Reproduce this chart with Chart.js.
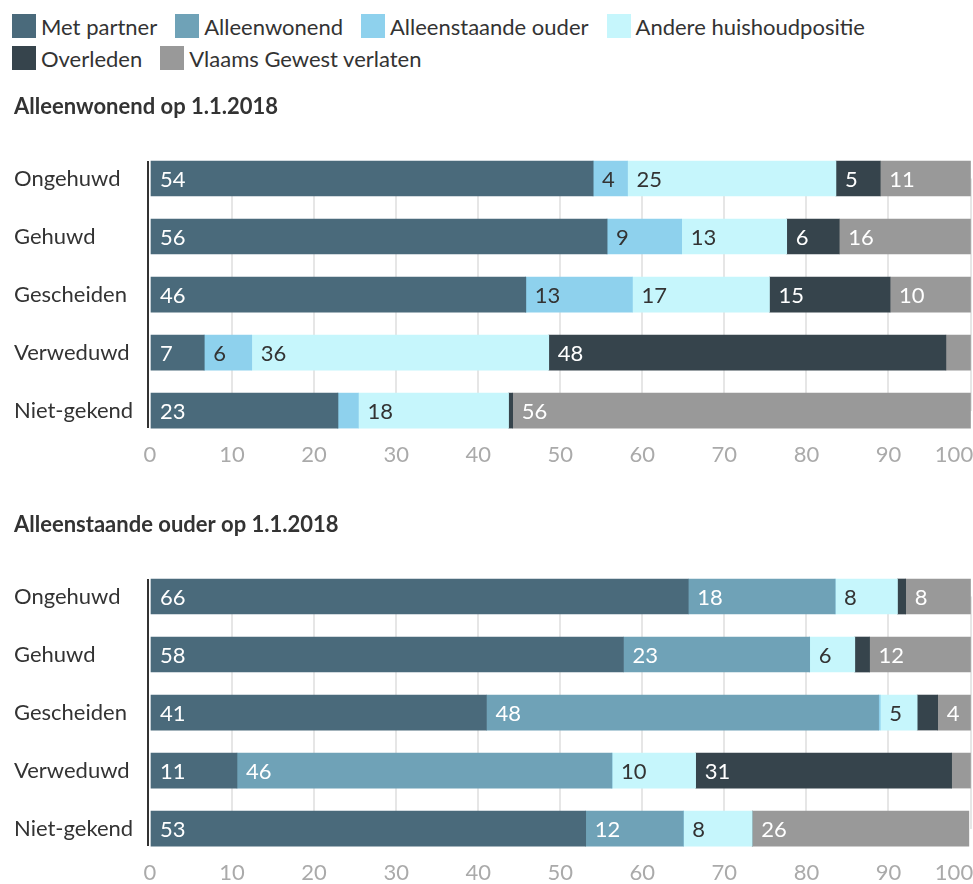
<!DOCTYPE html>
<html lang="nl">
<head>
<meta charset="utf-8">
<title>Huishoudpositie op 1.1.2018</title>
<script src="https://cdn.jsdelivr.net/npm/chart.js@4.4.1/dist/chart.umd.min.js"></script>
<style>
  html, body { margin: 0; padding: 0; background: #ffffff; overflow: hidden; }
  body { width: 973px; height: 884px; position: relative; font-family: Lato, sans-serif; }
  #legend {
    position: absolute; left: 12px; top: 14px; width: 961px;
    display: flex; flex-wrap: wrap; row-gap: 8px;
    font-size: 22px; color: #333333;
  }
  .legend-item { display: inline-flex; align-items: center; height: 24px; margin-right: 18px; white-space: nowrap; }
  .legend-box { width: 24px; height: 24px; margin-right: 5px; }
  .chart-box { position: absolute; left: 0; width: 973px; height: 430px; }
</style>
</head>
<body>
<div id="legend"></div>
<div class="chart-box" style="top:80px"><canvas id="chartAlleenwonend"></canvas></div>
<div class="chart-box" style="top:498px"><canvas id="chartAlleenstaande"></canvas></div>

<script>
"use strict";

/* ****************************************************************************
    DATA
**************************************************************************** */
// burgerlijke staat (rows)
var categories = ["Ongehuwd", "Gehuwd", "Gescheiden", "Verweduwd", "Niet-gekend"];
// huishoudpositie na 1.1.2018 (series)
var seriesNames = ["Met partner", "Alleenwonend", "Alleenstaande ouder",
  "Andere huishoudpositie", "Overleden", "Vlaams Gewest verlaten"];
var xTicks = [0, 10, 20, 30, 40, 50, 60, 70, 80, 90, 100];

// Alleenwonend op 1.1.2018 (percent)
var awMetPartner    = [54.0, 55.7, 45.8, 6.6, 22.9];
var awAlleenwonend  = [0, 0, 0, 0, 0];
var awAlleenstaande = [4.2, 9.1, 13.0, 5.8, 2.5];
var awAndere        = [25.4, 12.8, 16.7, 36.2, 18.3];
var awOverleden     = [5.4, 6.4, 14.7, 48.4, 0.5];
var awVerlaten      = [11.0, 16.0, 9.8, 3.0, 55.8];

// Alleenstaande ouder op 1.1.2018 (percent)
var aoMetPartner    = [65.6, 57.7, 41.0, 10.6, 53.1];
var aoAlleenwonend  = [17.9, 22.7, 47.8, 45.7, 11.9];
var aoAlleenstaande = [0, 0, 0.2, 0, 0];
var aoAndere        = [7.6, 5.5, 4.5, 10.2, 8.4];
var aoOverleden     = [1.0, 1.8, 2.5, 31.2, 0];
var aoVerlaten      = [7.9, 12.3, 4.0, 2.3, 26.4];

/* ****************************************************************************
    STYLE
**************************************************************************** */
var seriesColors = ["#4a6a7b", "#6fa2b7", "#8ed1ed", "#c6f6fc", "#36444c", "#999999"];
var labelColors = ["#ffffff", "#ffffff", "#333333", "#333333", "#ffffff", "#ffffff"];
var minLabelValue = 3.5; // smaller segments get no value label

Chart.defaults.font.family = "Lato";
Chart.defaults.color = "#333333";

/* ****************************************************************************
    PLUGINS
**************************************************************************** */

// writes the rounded value at the left inside of each segment
var segmentLabels = {
  id: "segmentLabels",
  afterDatasetsDraw: function (chart) {
    var ctx = chart.ctx;
    ctx.save();
    ctx.font = "22px Lato";
    ctx.textAlign = "left";
    ctx.textBaseline = "middle";
    chart.data.datasets.forEach(function (ds, i) {
      var meta = chart.getDatasetMeta(i);
      meta.data.forEach(function (bar, j) {
        var v = ds.data[j];
        if (v < minLabelValue) return;
        var p = bar.getProps(["x", "y", "base"], true);
        ctx.fillStyle = labelColors[i];
        ctx.fillText(String(Math.round(v)), Math.min(p.x, p.base) + 9, p.y + 1);
      });
    });
    ctx.restore();
  }
};

// dark left axis line that only spans the bars
var barAxisLine = {
  id: "barAxisLine",
  afterDatasetsDraw: function (chart) {
    var bars = chart.getDatasetMeta(0).data;
    if (!bars.length) return;
    var first = bars[0].getProps(["y", "height"], true);
    var last = bars[bars.length - 1].getProps(["y", "height"], true);
    var x = chart.scales.x.getPixelForValue(0) - 2;
    var ctx = chart.ctx;
    ctx.save();
    ctx.strokeStyle = "#333333";
    ctx.lineWidth = 2;
    ctx.beginPath();
    ctx.moveTo(x, first.y - first.height / 2);
    ctx.lineTo(x, last.y + last.height / 2);
    ctx.stroke();
    ctx.restore();
  }
};

/* ****************************************************************************
    CHARTS
**************************************************************************** */

/**
 * Build one stacked horizontal bar chart.
 *
 * @param {string} canvasId - id of the canvas
 * @param {string} title - chart title
 * @param {Array} seriesValues - one value array per series
 */
function makeChart(canvasId, title, seriesValues) {
  var datasets = seriesValues.map(function (values, i) {
    return {
      label: seriesNames[i],
      data: values,
      backgroundColor: seriesColors[i],
      borderWidth: 0,
      barThickness: 35,
      clip: false
    };
  });

  return new Chart(document.getElementById(canvasId), {
    type: "bar",
    data: { labels: categories, datasets: datasets },
    plugins: [segmentLabels, barAxisLine],
    options: {
      indexAxis: "y",
      responsive: true,
      maintainAspectRatio: false,
      animation: false,
      layout: { padding: { left: 14, right: 2.5, top: 0, bottom: 10 } },
      plugins: {
        legend: { display: false },
        tooltip: { enabled: false },
        title: {
          display: true,
          text: title,
          align: "start",
          color: "#333333",
          font: { family: "Lato", size: 22, weight: "bold" },
          padding: { top: 13.8, bottom: 58.3 }
        }
      },
      scales: {
        x: {
          stacked: true,
          min: xTicks[0],
          max: xTicks[xTicks.length - 1],
          afterBuildTicks: function (scale) {
            scale.ticks = xTicks.map(function (v) { return { value: v }; });
          },
          afterFit: function (scale) {
            scale.paddingLeft = 0;
            scale.paddingRight = 0;
          },
          border: { display: false },
          grid: {
            drawTicks: false,
            lineWidth: 2,
            color: function (c) {
              return c.tick && c.tick.value === 0 ? "rgba(0,0,0,0)" : "#e6e6e6";
            }
          },
          ticks: {
            padding: 31.5,
            maxRotation: 0,
            autoSkip: false,
            color: "#aaaaaa",
            font: { family: "Lato", size: 22 },
            callback: function (v) {
              // last label is pulled in so it stays inside the page
              return v === 100 ? "100\u2003\u2003" : String(v);
            }
          }
        },
        y: {
          stacked: true,
          offset: false,
          afterFit: function (scale) { scale.width = 136; },
          border: { display: false },
          grid: { display: false },
          ticks: {
            crossAlign: "far",
            padding: 0,
            color: "#333333",
            font: { family: "Lato", size: 22 }
          }
        }
      }
    }
  });
}

/**
 * Legend shared by both charts.
 */
function renderLegend() {
  var legend = document.getElementById("legend");
  seriesNames.forEach(function (name, i) {
    var item = document.createElement("span");
    item.className = "legend-item";
    var box = document.createElement("span");
    box.className = "legend-box";
    box.style.background = seriesColors[i];
    item.appendChild(box);
    item.appendChild(document.createTextNode(name));
    legend.appendChild(item);
  });
}

renderLegend();
makeChart("chartAlleenwonend", "Alleenwonend op 1.1.2018",
  [awMetPartner, awAlleenwonend, awAlleenstaande, awAndere, awOverleden, awVerlaten]);
makeChart("chartAlleenstaande", "Alleenstaande ouder op 1.1.2018",
  [aoMetPartner, aoAlleenwonend, aoAlleenstaande, aoAndere, aoOverleden, aoVerlaten]);
</script>
</body>
</html>
